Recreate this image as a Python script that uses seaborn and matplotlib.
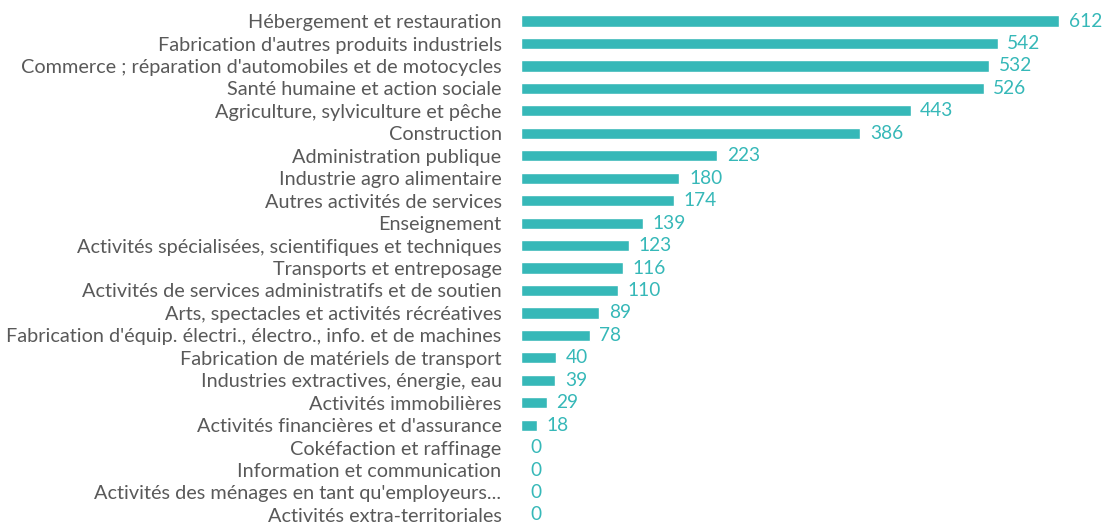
import matplotlib
matplotlib.use("Agg")
import matplotlib.pyplot as plt
import seaborn as sns
import pandas as pd

sns.set_theme(style="white")
plt.rcParams['font.family'] = ['Lato', 'DejaVu Sans']

categories = [
    "Hébergement et restauration",
    "Fabrication d'autres produits industriels",
    "Commerce ; réparation d'automobiles et de motocycles",
    "Santé humaine et action sociale",
    "Agriculture, sylviculture et pêche",
    "Construction",
    "Administration publique",
    "Industrie agro alimentaire",
    "Autres activités de services",
    "Enseignement",
    "Activités spécialisées, scientifiques et techniques",
    "Transports et entreposage",
    "Activités de services administratifs et de soutien",
    "Arts, spectacles et activités récréatives",
    "Fabrication d'équip. électri., électro., info. et de machines",
    "Fabrication de matériels de transport",
    "Industries extractives, énergie, eau",
    "Activités immobilières",
    "Activités financières et d'assurance",
    "Cokéfaction et raffinage",
    "Information et communication",
    "Activités des ménages en tant qu'employeurs...",
    "Activités extra-territoriales",
]
values = [612, 542, 532, 526, 443, 386, 223, 180, 174, 139, 123, 116, 110,
          89, 78, 40, 39, 29, 18, 0, 0, 0, 0]

teal = "#36B8B8"
df = pd.DataFrame({"secteur": categories, "nombre": values})

fig = plt.figure(figsize=(11.04, 5.23), dpi=100)
ax = fig.add_axes([521 / 1104, 0, 1 - 521 / 1104, 1])
sns.barplot(data=df, x="nombre", y="secteur", color=teal, width=0.5,
            saturation=1, ax=ax)
ax.bar_label(ax.containers[0], padding=7, color=teal, fontsize=13.8)

ax.set_xlim(0, 663)
ax.set_ylim(22.36, -0.94)
ax.set_xlabel("")
ax.set_ylabel("")
ax.set_xticks([])
ax.tick_params(axis="y", length=0, pad=14, labelsize=14.3, labelcolor="#595959")
sns.despine(ax=ax, left=True, bottom=True)

fig.savefig("out.png", dpi=100)
